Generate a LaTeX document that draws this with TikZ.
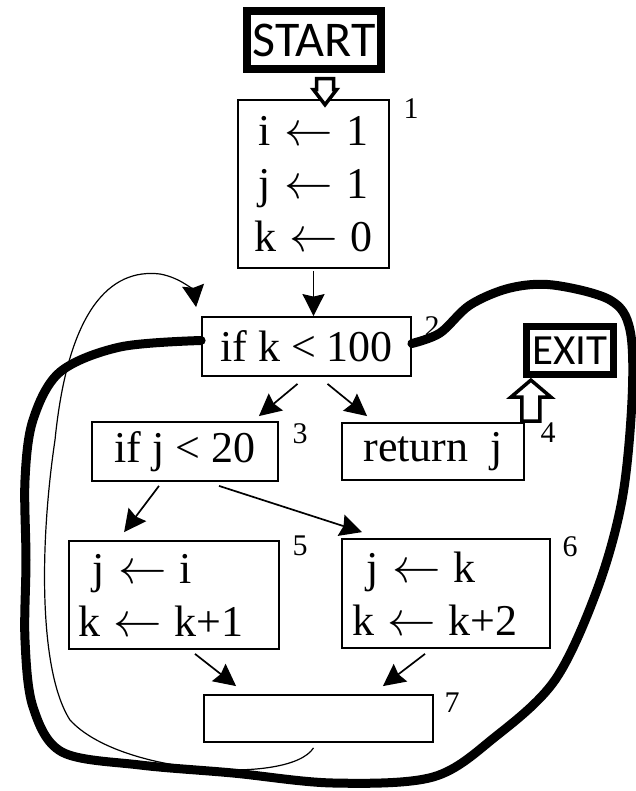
\documentclass[tikz,border=0pt]{standalone}
\usepackage{fontspec}
\setmainfont{Liberation Serif}
\newfontfamily\calib{Carlito}
\usetikzlibrary{arrows.meta,positioning,calc}
\newcommand{\asgn}{\hspace{.3em}\scalebox{1.95}{$\leftarrow$}\hspace{.3em}}

\begin{document}
\begin{tikzpicture}[x=1pt, y=-1pt,
  blk/.style={draw, line width=1.8pt, inner sep=0pt, font=\fontsize{44}{53}\selectfont, align=center},
  term/.style={draw, line width=7.5pt, inner sep=0pt, font=\calib\fontsize{50}{52}\selectfont},
  num/.style={font=\fontsize{30}{30}\selectfont, inner sep=0pt},
  arr/.style={line width=1.7pt, -{Stealth[length=22pt, width=22pt, inset=2.5pt]}},
  fat/.style={draw, line width=3.5pt, line join=miter, fill=white},
  hull/.style={line width=9pt, line cap=round, line join=round},
]
  \useasboundingbox (0,0) rectangle (635,791);
  % --- blocks ---
  \node[term, minimum width=134pt, minimum height=58pt] (start) at (314,40) {START};
  \node[blk, minimum width=151pt, minimum height=168pt] (b1) at (313.5,184) {i\asgn 1\\ j\asgn 1\\ k\asgn 0};
  \node[blk, minimum width=209pt, minimum height=59pt] (b2) at (306.5,346.5) {if k < 100};
  \node[blk, minimum width=186pt, minimum height=59pt] (b3) at (185,451.5) {if j < 20};
  \node[blk, minimum width=182pt, minimum height=57pt] (b4) at (433,451.5) {return~ j};
  \node[blk, align=left, inner xsep=9pt, text width=192pt, minimum height=108pt] (b5) at (174,595) {\ j\asgn i\\ k\asgn k+1};
  \node[blk, align=left, inner xsep=10pt, text width=188pt, minimum height=109pt] (b6) at (446,593.5) {\ j\asgn k\\ k\asgn k+2};
  \node[blk, minimum width=229pt, minimum height=47pt] (b7) at (318.5,718.5) {};
  \node[term, line width=7pt, minimum width=87pt, minimum height=48pt, font=\calib\fontsize{43}{45}\selectfont] (exit) at (570,350.5) {EXIT};
  % --- block numbers ---
  \node[num] (l1) at (411,109) {1};
  \node[num] (l2) at (432,327) {2};
  \node[num] (l3) at (300,434) {3};
  \node[num] (l4) at (548,433) {4};
  \node[num] (l5) at (300,546) {5};
  \node[num] (l6) at (570,547) {6};
  \node[num] (l7) at (452,703) {7};
  % --- entry and exit ---
  \coordinate (st) at ($(start.south)+(11,6)$);
  \draw[fat] (st) -- ++(-8.5,0) -- ++(0,11) -- ++(-3,0) -- ++(11.5,15) -- ++(11.5,-15) -- ++(-3,0) -- ++(0,-11) -- cycle;
  \coordinate (xt) at ($(b4.north east)+(6,-1)$);
  \draw[fat] (xt) -- ++(-9,0) -- ++(0,-24) -- ++(-11,0) -- ++(20,-17) -- ++(20,17) -- ++(-11,0) -- ++(0,24) -- cycle;
  % --- edges ---
  \draw[arr] ($(b1.south)+(0,2)$) -- (b1.south |- b2.north);
  \draw[arr] ($(b2.south)+(-9,7)$) -- ($(b3.north east)+(-20,-5)$);
  \draw[arr] ($(b2.south)+(21,7)$) -- ($(b4.north west)+(26,-6)$);
  \draw[arr] ($(b3.south)+(-26,4)$) -- ($(b5.north west)+(56,-8)$);
  \draw[arr] ($(b3.south)+(34,4)$) -- ($(b6.north west)+(21,-6)$);
  \draw[arr] ($(b5.south)+(21,4)$) -- ($(b7.north west)+(33,-8)$);
  \draw[arr] ($(b6.south)+(-21,5)$) -- ($(b7.north east)+(-51,-8)$);
  \draw[arr, line width=1.2pt] ($(b7.south)+(-5,5)$) .. controls (290,785) and (120,775) .. (70,720)
    .. controls (38,670) and (40,540) .. (55,440) .. controls (68,310) and (110,268) .. (160,274)
    .. controls (182,278) and (194,292) .. ($(b2.north west)+(-5,-9)$);
  % --- loop region ---
  \coordinate (h0) at ($(b2.west)+(0,-6)$);
  \coordinate (h1) at ($(b2.east)+(0,-3)$);
  \draw[hull] plot[smooth, tension=0.55] coordinates {(h0) (120,347) (60,372) (33,420) (25,480) (26,560)
    (25,640) (33,707) (62,752) (140,765) (233,773) (333,783) (433,777) (495,737) (555,680) (597,590)
    (622,500) (632,400) (630,330) (610,300) (553,285) (510,288) (470,305) (440,333) (h1)};
\end{tikzpicture}
\end{document}
